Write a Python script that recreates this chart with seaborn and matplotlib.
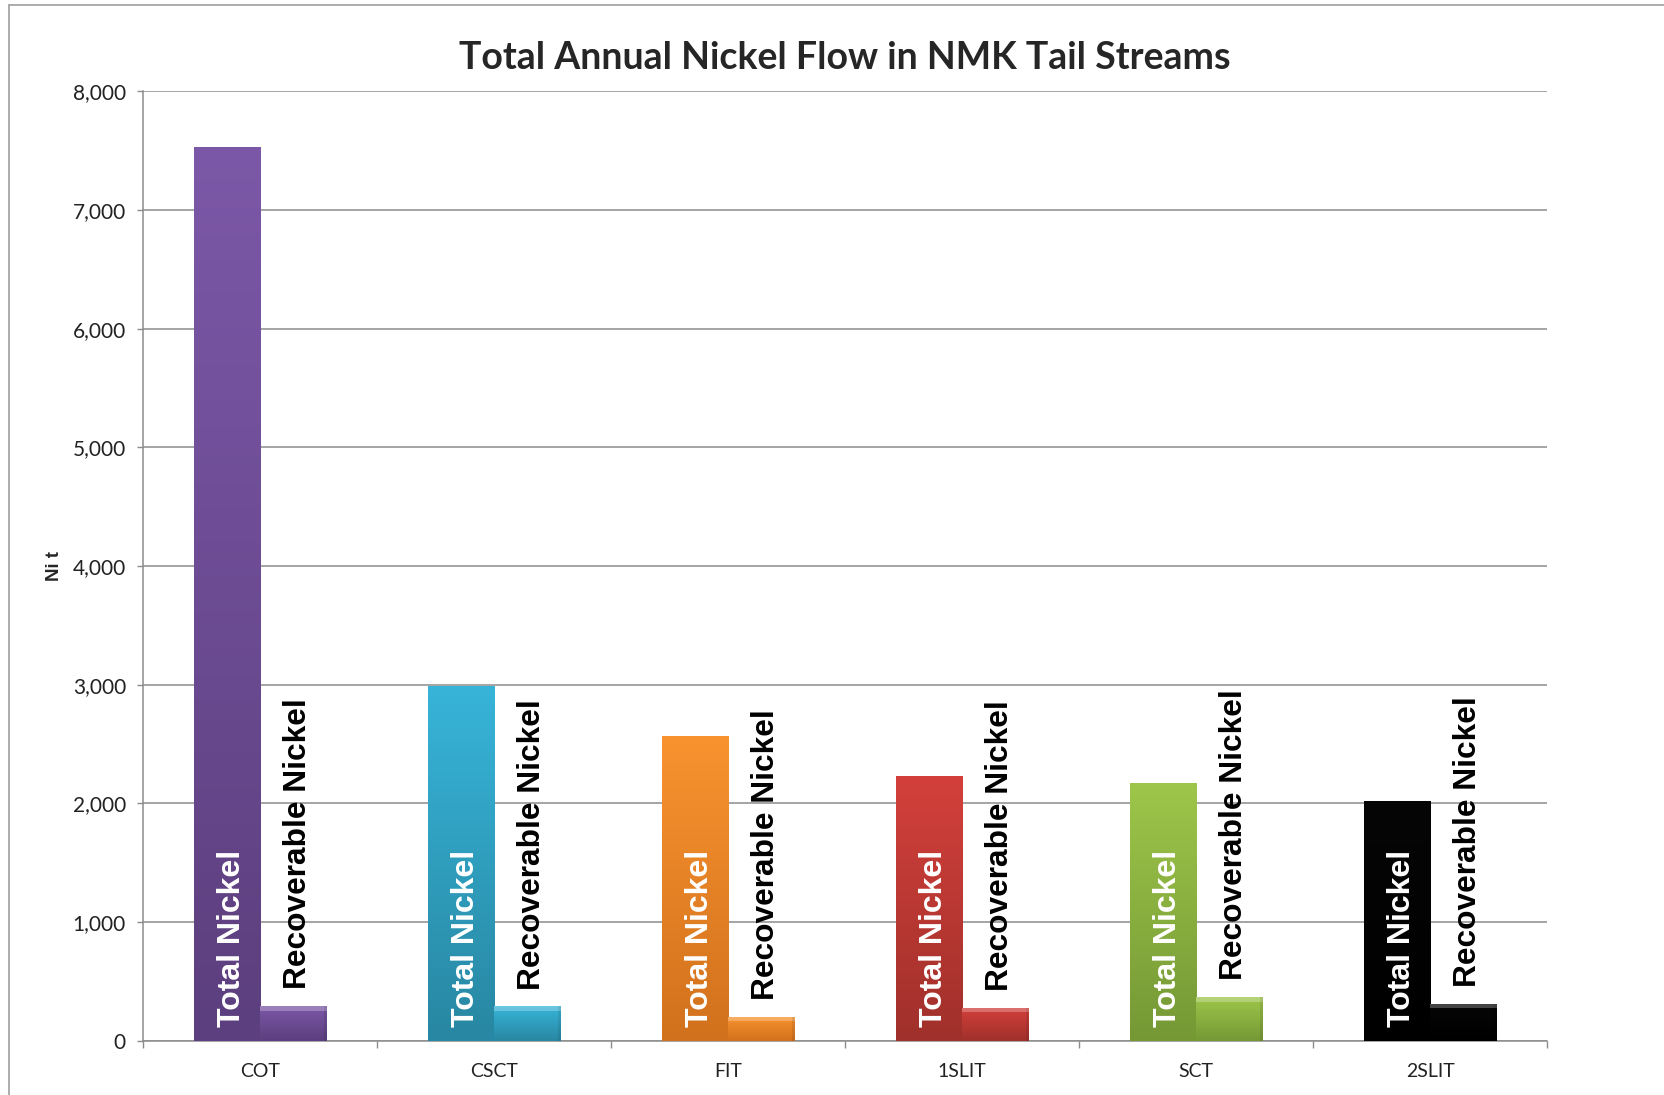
import numpy as np
import pandas as pd
import seaborn as sns
import matplotlib.pyplot as plt
from matplotlib.colors import to_rgb
from matplotlib.lines import Line2D
from matplotlib.patches import Rectangle
from matplotlib.ticker import FuncFormatter, FixedLocator

# data
streams = ["COT", "CSCT", "FIT", "1SLIT", "SCT", "2SLIT"]
total_ni = [7530, 2990, 2570, 2230, 2170, 2020]
recoverable_ni = [295, 290, 205, 280, 370, 315]
series = ["Total Nickel", "Recoverable Nickel"]

# per-stream colours (top, bottom of gradient)
top_colors = ["#7C58A8", "#37B4D8", "#F8932F", "#D3403B", "#9DC64A", "#060606"]
bottom_colors = ["#5C3F7E", "#2887A2", "#D2711D", "#A0302B", "#759835", "#000000"]

df = pd.DataFrame({
    "stream": streams * 2,
    "series": [series[0]] * len(streams) + [series[1]] * len(streams),
    "value": total_ni + recoverable_ni,
})

sns.set_style("white")
plt.rcParams["font.family"] = ["Lato", "DejaVu Sans"]

fig = plt.figure(figsize=(16.64, 10.95), dpi=100)
ax = fig.add_axes([0.0861, 0.0494, 0.8437, 0.8673])

sns.barplot(data=df, x="stream", y="value", hue="series", order=streams,
            hue_order=series, width=0.57, gap=0, errorbar=None,
            palette=["#888888", "#888888"], legend=False, ax=ax, zorder=3)

ax.set_xlim(-0.5, 5.5)
ax.set_ylim(0, 8000)


def paint(bar, c_top, c_bot, bevel=False):
    x0, y0 = bar.get_x(), bar.get_y()
    w, h = bar.get_width(), bar.get_height()
    bar.set_facecolor("none")
    bar.set_edgecolor("none")
    grad = np.linspace(0, 1, 100)[:, None]
    t, b = np.array(to_rgb(c_top)), np.array(to_rgb(c_bot))
    img = (t[None, None, :] * (1 - grad[..., None]) + b[None, None, :] * grad[..., None])
    im = ax.imshow(img, extent=(x0, x0 + w, y0, y0 + h), origin="upper",
                   aspect="auto", zorder=3, interpolation="bicubic")
    im.set_clip_path(bar)
    if bevel:
        bh = 40
        ax.add_patch(Rectangle((x0, y0 + h - bh), w, bh, facecolor="white",
                               alpha=0.25, edgecolor="none", zorder=4))
        ax.add_patch(Rectangle((x0 + w * 0.95, y0), w * 0.05, h, facecolor="black",
                               alpha=0.08, edgecolor="none", zorder=4))


for i, bar in enumerate(ax.containers[0]):
    paint(bar, top_colors[i], bottom_colors[i])
for i, bar in enumerate(ax.containers[1]):
    paint(bar, top_colors[i], bottom_colors[i], bevel=True)

ax.set_xlim(-0.5, 5.5)
ax.set_ylim(0, 8000)

# in-bar / above-bar labels
for i, bar in enumerate(ax.containers[0]):
    cx = bar.get_x() + bar.get_width() / 2
    ax.annotate("Total Nickel", xy=(cx, 0), xytext=(3.5, 10), textcoords="offset points",
                rotation=90, ha="center", va="bottom", color="white",
                fontsize=23, fontweight="bold", family="Liberation Sans", zorder=5)
for i, bar in enumerate(ax.containers[1]):
    cx = bar.get_x() + bar.get_width() / 2
    ax.annotate("Recoverable Nickel", xy=(cx, bar.get_height()), xytext=(3.5, 12),
                textcoords="offset points", rotation=90, ha="center", va="bottom",
                color="black", fontsize=22.8, fontweight="bold",
                family="Liberation Sans", zorder=5)

grid_c = "#8C8C8C"
ax.yaxis.set_major_locator(FixedLocator(np.arange(0, 8001, 1000)))
ax.yaxis.set_major_formatter(FuncFormatter(lambda v, p: f"{int(v):,}"))
ax.grid(axis="y", color=grid_c, linewidth=1.1, zorder=0)
ax.set_axisbelow(True)
for s in ["top", "right"]:
    ax.spines[s].set_visible(False)
for s in ["left", "bottom"]:
    ax.spines[s].set_color(grid_c)
    ax.spines[s].set_linewidth(1.1)

ax.tick_params(axis="y", which="major", direction="out", length=4.5, width=1,
               color=grid_c, pad=8, labelsize=15, labelcolor="#222222", left=True)
ax.set_xticks(range(len(streams)))
ax.set_xticklabels(streams)
ax.tick_params(axis="x", which="major", length=0, pad=16, labelsize=14,
               labelcolor="#222222")
ax.set_xticks(np.arange(-0.5, 5.6, 1), minor=True)
ax.tick_params(axis="x", which="minor", direction="out", length=5, width=1,
               color=grid_c, bottom=True)

ax.set_xlabel("")
ax.set_ylabel("Ni t", fontsize=13.4, fontweight="bold", family="Liberation Sans",
              labelpad=7)
ax.set_title("Total Annual Nickel Flow in NMK Tail Streams", fontsize=27,
             fontweight="bold", pad=16)

# outer chart frame (top and left edges visible in the reference)
fx, fy = 8.5 / 1664, 1 - 5.3 / 1095
fig.add_artist(Line2D([fx, 1], [fy, fy], color="#A6A6A6", linewidth=1.3))
fig.add_artist(Line2D([fx, fx], [0, fy], color="#A6A6A6", linewidth=1.3))

fig.savefig("out.png", dpi=100)
